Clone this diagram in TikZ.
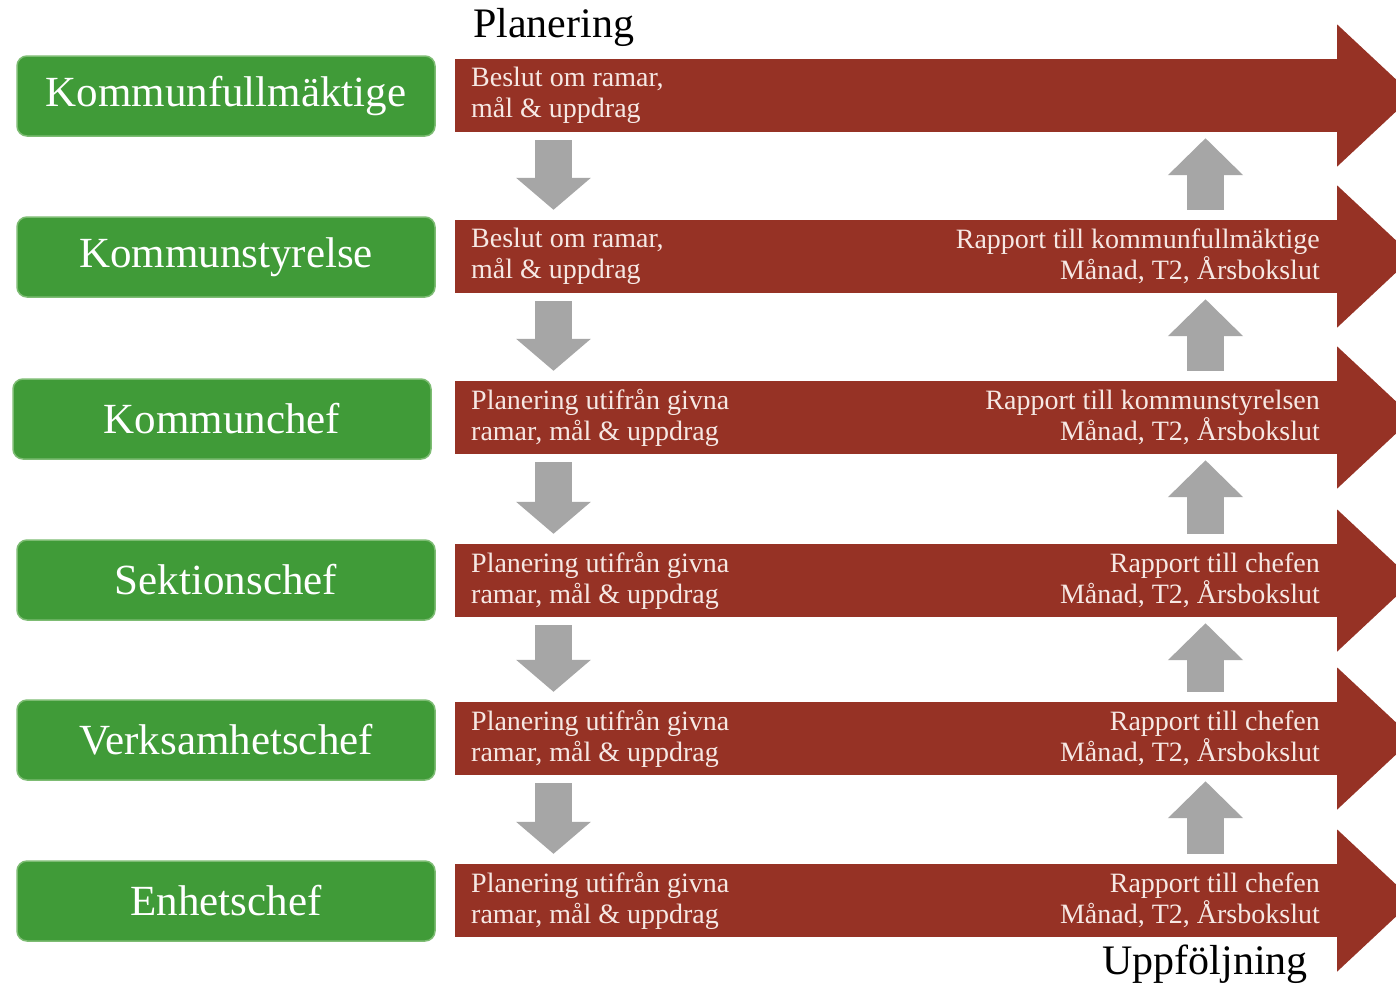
\documentclass[tikz,border=0pt]{standalone}
\usepackage{fontspec}
\setmainfont{Liberation Serif}
\usetikzlibrary{arrows.meta,calc}
\definecolor{kgreen}{RGB}{64,155,56}
\definecolor{kgreenedge}{RGB}{125,188,115}
\definecolor{kred}{RGB}{150,50,37}
\definecolor{kgray}{RGB}{166,166,166}
\definecolor{ktext}{RGB}{246,232,228}
\begin{document}
\begin{tikzpicture}[x=1pt,y=-1pt,
  role/.style={rectangle, rounded corners=10pt, fill=kgreen, draw=kgreenedge, line width=1.5pt,
    minimum width=418pt, minimum height=80pt, inner sep=0pt, text=white,
    font=\fontsize{43}{43}\selectfont},
  band/.style={rectangle, fill=kred, minimum width=883pt, minimum height=73pt, inner sep=0pt},
  bandtxt/.style={text=ktext, font=\fontsize{28}{31}\selectfont, inner sep=0pt},
  downarr/.style={draw=kgray, line width=37pt, -{Triangle[width=73pt,length=32pt]},
    shorten <=8pt, shorten >=10pt},
  uparr/.style={draw=kgray, line width=37pt, -{Triangle[width=73pt,length=37pt]},
    shorten <=10pt, shorten >=6pt},
  title/.style={font=\fontsize{42}{42}\selectfont, text=black, inner sep=0pt}
]
\clip (0,0) rectangle (1396,985);
\fill[white] (0,0) rectangle (1396,985);

% role boxes
\node[role] (r1) at (226,96) {Kommunfullmäktige};
\node[role] (r2) at (226,257) {Kommunstyrelse};
\node[role] (r3) at (222,419) {Kommunchef};
\node[role] (r4) at (226,580) {Sektionschef};
\node[role] (r5) at (226,740) {Verksamhetschef};
\node[role] (r6) at (226,901) {Enhetschef};

% red bands
\foreach \i/\y in {1/95.5, 2/256.5, 3/417.5, 4/580.5, 5/738.5, 6/900.5}{
  \node[band] (b\i) at (896.5,\y) {};
  \fill[kred] ($(b\i.east)+(-1,-71)$) -- ($(b\i.east)+(75,0)$) -- ($(b\i.east)+(-1,71)$) -- cycle;
}

% band texts
\node[bandtxt, anchor=west, align=left] (l1) at (471,95.5) {Beslut om ramar,\\mål \& uppdrag};
\node[bandtxt, anchor=west, align=left] (l2) at (471,256.5) {Beslut om ramar,\\mål \& uppdrag};
\node[bandtxt, anchor=west, align=left] (l3) at (471,417.5) {Planering utifrån givna\\ramar, mål \& uppdrag};
\node[bandtxt, anchor=west, align=left] (l4) at (471,580.5) {Planering utifrån givna\\ramar, mål \& uppdrag};
\node[bandtxt, anchor=west, align=left] (l5) at (471,738.5) {Planering utifrån givna\\ramar, mål \& uppdrag};
\node[bandtxt, anchor=west, align=left] (l6) at (471,900.5) {Planering utifrån givna\\ramar, mål \& uppdrag};

\node[bandtxt, anchor=east, align=right] (q2) at (1320,256.5) {Rapport till kommunfullmäktige\\Månad, T2, Årsbokslut};
\node[bandtxt, anchor=east, align=right] (q3) at (1320,417.5) {Rapport till kommunstyrelsen\\Månad, T2, Årsbokslut};
\node[bandtxt, anchor=east, align=right] (q4) at (1320,580.5) {Rapport till chefen\\Månad, T2, Årsbokslut};
\node[bandtxt, anchor=east, align=right] (q5) at (1320,738.5) {Rapport till chefen\\Månad, T2, Årsbokslut};
\node[bandtxt, anchor=east, align=right] (q6) at (1320,900.5) {Rapport till chefen\\Månad, T2, Årsbokslut};

% gray arrows
\coordinate (dx) at (553.5,0);
\coordinate (ux) at (1205.5,0);
\foreach \a/\b in {1/2, 2/3, 3/4, 4/5, 5/6}{
  \draw[downarr] (b\a.south -| dx) -- (b\b.north -| dx);
  \draw[uparr] (b\b.north -| ux) -- (b\a.south -| ux);
}

% titles
\node[title, anchor=base west] (plan) at (473,37) {Planering};
\node[title, anchor=base east] (uppf) at (1308,974) {Uppföljning};
\end{tikzpicture}
\end{document}
